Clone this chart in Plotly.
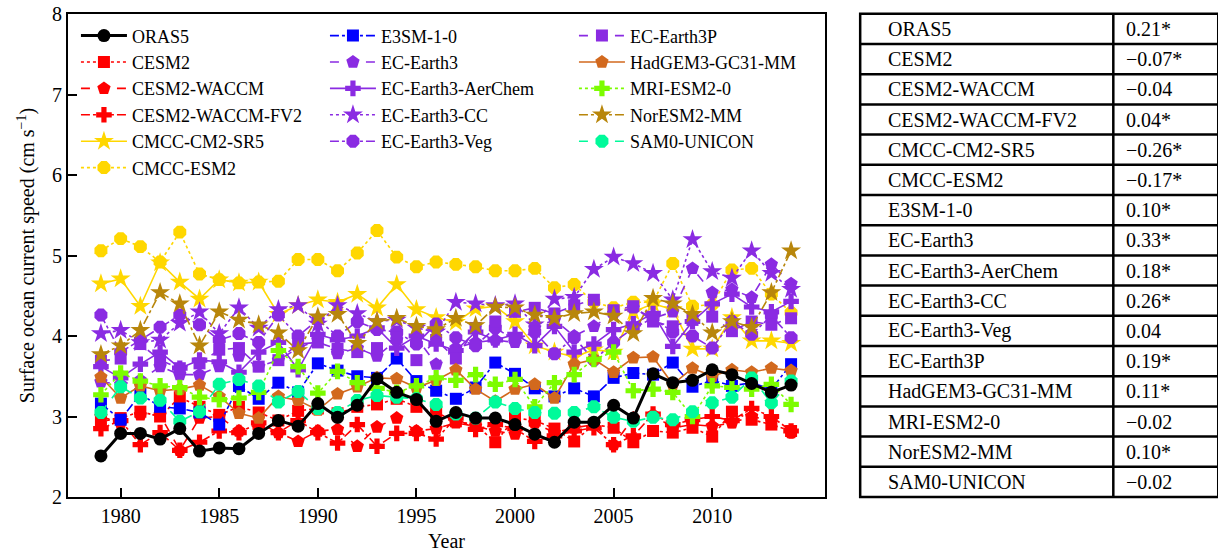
import plotly.graph_objects as go

# ---- data -------------------------------------------------------------
years = list(range(1979, 2015))

model_names = [
    "ORAS5", "CESM2", "CESM2-WACCM", "CESM2-WACCM-FV2", "CMCC-CM2-SR5",
    "CMCC-ESM2", "E3SM-1-0", "EC-Earth3", "EC-Earth3-AerChem", "EC-Earth3-CC",
    "EC-Earth3-Veg", "EC-Earth3P", "HadGEM3-GC31-MM", "MRI-ESM2-0",
    "NorESM2-MM", "SAM0-UNICON",
]

# linear trends (cm s-1 per decade), * = significant
trend_labels = [
    "0.21*", "\u22120.07*", "\u22120.04", "0.04*", "\u22120.26*", "\u22120.17*",
    "0.10*", "0.33*", "0.18*", "0.26*", "0.04", "0.19*", "0.11*", "\u22120.02",
    "0.10*", "\u22120.02",
]

oras5 = [2.51, 2.79, 2.79, 2.72, 2.85, 2.57, 2.61, 2.60, 2.79, 2.95, 2.88, 3.16,
         2.99, 3.14, 3.47, 3.30, 3.21, 2.94, 3.05, 2.98, 2.98, 2.90, 2.78, 2.68,
         2.93, 2.93, 3.14, 2.98, 3.53, 3.42, 3.45, 3.58, 3.52, 3.41, 3.30, 3.39]
cesm2 = [2.94, 2.98, 3.06, 3.00, 3.24, 3.12, 3.02, 3.12, 3.05, 2.95, 3.07, 3.10,
         3.04, 3.12, 3.15, 3.22, 3.12, 3.05, 2.94, 2.90, 2.68, 2.98, 2.95, 2.85,
         2.69, 2.90, 2.86, 2.68, 2.82, 2.80, 2.86, 2.75, 3.06, 2.96, 2.90, 2.82]
cesm2_waccm = [3.00, 2.92, 3.02, 3.02, 2.58, 2.98, 3.00, 2.82, 2.85, 2.80, 2.69, 2.82,
               2.84, 2.63, 2.87, 2.98, 2.82, 2.85, 2.92, 2.88, 2.82, 2.78, 2.92, 2.80,
               2.86, 2.90, 2.65, 2.98, 3.02, 2.86, 2.90, 2.88, 2.92, 3.00, 2.95, 2.80]
cesm2_waccm_fv2 = [2.85, 2.95, 2.65, 2.80, 2.58, 2.68, 2.82, 2.80, 2.92, 2.80, 2.95, 2.80,
                   2.67, 2.90, 2.63, 2.79, 2.79, 2.72, 2.98, 2.84, 2.90, 2.85, 2.69, 2.76,
                   2.82, 2.86, 2.65, 2.76, 3.03, 2.90, 2.96, 3.00, 2.95, 3.10, 3.00, 2.82]
cmcc_cm2_sr5 = [4.65, 4.71, 4.37, 4.91, 4.67, 4.46, 4.70, 4.66, 4.67, 4.27, 4.38, 4.45,
                4.42, 4.52, 4.35, 4.64, 4.33, 4.23, 4.17, 4.34, 4.37, 4.18, 3.88, 3.80,
                3.74, 3.83, 3.80, 4.30, 4.40, 4.33, 3.84, 3.84, 4.23, 3.94, 3.94, 3.91]
cmcc_esm2 = [5.06, 5.21, 5.11, 4.92, 5.29, 4.77, 4.70, 4.66, 4.67, 4.68, 4.95, 4.95,
             4.81, 5.03, 5.31, 4.98, 4.86, 4.92, 4.89, 4.86, 4.81, 4.81, 4.84, 4.60,
             4.64, 4.42, 4.35, 4.42, 4.42, 4.90, 4.37, 4.39, 4.82, 4.84, 4.52, 4.29]
e3sm_1_0 = [3.16, 2.96, 3.28, 3.12, 3.10, 3.05, 2.90, 3.38, 3.22, 3.42, 3.30, 3.66,
            3.57, 3.50, 3.48, 3.72, 3.44, 3.32, 3.22, 3.36, 3.67, 3.53, 3.35, 3.25,
            3.35, 3.25, 3.48, 3.54, 3.52, 3.67, 3.37, 3.45, 3.38, 3.42, 3.34, 3.65]
ec_earth3 = [3.43, 3.40, 3.45, 3.62, 3.52, 3.52, 3.62, 3.75, 3.62, 3.70, 3.85, 3.95,
             3.78, 3.85, 3.75, 3.95, 3.98, 3.65, 3.85, 3.92, 3.95, 3.92, 4.10, 4.20,
             4.00, 4.12, 4.28, 4.35, 4.22, 4.30, 4.84, 4.54, 4.58, 4.48, 4.89, 4.65]
ec_earth3_aerchem = [3.62, 3.48, 3.65, 3.80, 3.60, 3.70, 3.68, 3.55, 3.80, 3.92, 3.58, 4.02,
                     3.95, 4.00, 4.10, 3.85, 4.00, 3.90, 3.82, 4.05, 3.95, 4.02, 3.88, 4.12,
                     3.80, 3.90, 4.08, 4.15, 4.28, 3.87, 4.18, 4.40, 4.52, 4.36, 4.30, 4.43]
ec_earth3_cc = [4.03, 4.07, 3.92, 3.95, 4.16, 4.30, 4.03, 4.35, 4.10, 4.33, 4.38, 4.15,
                4.38, 4.28, 4.18, 4.20, 4.10, 4.05, 4.42, 4.40, 4.38, 4.40, 4.14, 4.46,
                4.48, 4.83, 4.98, 4.90, 4.78, 4.45, 5.20, 4.80, 4.72, 5.06, 4.78, 4.58]
ec_earth3_veg = [4.26, 3.80, 3.95, 4.11, 4.26, 4.14, 3.95, 4.03, 3.92, 4.26, 4.00, 4.20,
                 4.00, 4.18, 4.08, 4.05, 3.90, 4.15, 3.98, 3.88, 4.10, 3.95, 4.05, 3.78,
                 3.98, 3.70, 3.92, 4.10, 4.22, 4.05, 4.00, 3.85, 4.18, 4.02, 4.25, 3.98]
ec_earth3p = [3.69, 3.72, 3.90, 3.70, 3.60, 3.66, 3.83, 3.85, 3.62, 3.70, 3.90, 3.92,
              3.84, 3.80, 3.85, 3.98, 3.70, 3.95, 3.72, 4.10, 4.18, 4.30, 4.35, 4.28,
              4.38, 4.45, 4.32, 4.37, 4.18, 4.12, 4.20, 4.24, 4.06, 4.18, 4.14, 4.22]
hadgem3_gc31_mm = [3.49, 3.23, 3.38, 3.32, 3.34, 3.39, 3.25, 3.04, 2.98, 3.25, 3.20, 3.08,
                   3.28, 3.37, 3.48, 3.47, 3.36, 3.45, 3.58, 3.34, 3.19, 3.34, 3.40, 3.23,
                   3.65, 3.71, 3.55, 3.73, 3.74, 3.40, 3.60, 3.50, 3.58, 3.55, 3.60, 3.57]
mri_esm2_0 = [3.27, 3.54, 3.44, 3.38, 3.36, 3.24, 3.21, 3.23, 3.30, 3.82, 3.62, 3.29,
              3.56, 3.42, 3.35, 3.30, 3.38, 3.48, 3.45, 3.52, 3.40, 3.46, 3.12, 3.42,
              3.52, 3.71, 3.80, 3.32, 3.34, 3.30, 3.00, 3.38, 3.36, 3.34, 3.40, 3.15]
noresm2_mm = [3.77, 3.88, 4.07, 4.54, 4.40, 3.88, 4.30, 4.20, 4.14, 4.04, 3.82, 4.24,
              4.27, 3.91, 4.18, 4.22, 4.12, 4.08, 4.22, 4.13, 4.36, 4.35, 4.26, 4.22,
              4.28, 4.30, 4.25, 4.03, 4.47, 4.40, 4.27, 4.04, 4.18, 4.11, 4.54, 5.06]
sam0_unicon = [3.05, 3.37, 3.23, 3.20, 2.94, 3.06, 3.40, 3.46, 3.38, 3.18, 3.31, 3.10,
               3.05, 3.20, 3.26, 3.24, 3.22, 3.15, 3.03, 2.98, 3.18, 3.10, 3.05, 3.04,
               3.05, 3.12, 2.99, 2.94, 2.99, 2.96, 3.06, 3.17, 3.24, 3.48, 3.17, 3.44]

series_values = [
    oras5, cesm2, cesm2_waccm, cesm2_waccm_fv2, cmcc_cm2_sr5, cmcc_esm2, e3sm_1_0,
    ec_earth3, ec_earth3_aerchem, ec_earth3_cc, ec_earth3_veg, ec_earth3p,
    hadgem3_gc31_mm, mri_esm2_0, noresm2_mm, sam0_unicon,
]

# ---- styles -----------------------------------------------------------
RED, GOLD, BLUE, VIOLET = "#FF0000", "#FFD700", "#0000FF", "#8A2BE2"
styles = {
    "ORAS5":             (  "black",  "solid",   "circle",   13),
    "CESM2":             (   RED,     "dot",     "square",   12),
    "CESM2-WACCM":       (   RED,     "dash",    "pentagon", 14),
    "CESM2-WACCM-FV2":   (   RED,     "dashdot", "cross",    13),
    "CMCC-CM2-SR5":      (   GOLD,    "solid",   "star",     15),
    "CMCC-ESM2":         (   GOLD,    "dot",     "octagon",  14),
    "E3SM-1-0":          (   BLUE,    "dashdot", "square",   12),
    "EC-Earth3":         (   VIOLET,  "dash",    "pentagon", 14),
    "EC-Earth3-AerChem": (   VIOLET,  "solid",   "cross",    13),
    "EC-Earth3-CC":      (   VIOLET,  "dot",     "star",     15),
    "EC-Earth3-Veg":     (   VIOLET,  "dashdot", "octagon",  14),
    "EC-Earth3P":        (   VIOLET,  "dash",    "square",   12),
    "HadGEM3-GC31-MM":   ("#D2691E",  "solid",   "pentagon", 14),
    "MRI-ESM2-0":        ("#7CFC00",  "dot",     "cross",    13),
    "NorESM2-MM":        ("#B8860B",  "dashdot", "star",     15),
    "SAM0-UNICON":       ("#00FA9A",  "dash",    "octagon",  14),
}

FONT = "Liberation Serif, Times New Roman, serif"
W, H = 1218, 555
L, R, T, B = 68, 825.5, 13.5, 497.3          # plot box in pixels

fig = go.Figure()

# legend: three columns (6, 5, 5 entries) read top-to-bottom
legend_columns = [model_names[0:6], model_names[6:11], model_names[11:16]]
rank = {}
for col, names in enumerate(legend_columns):
    for row, nm in enumerate(names):
        rank[nm] = row * 3 + col + 1

draw_order = list(range(1, len(model_names))) + [0]   # reanalysis on top
for i in draw_order:
    name = model_names[i]
    color, dash, symbol, size = styles[name]
    fig.add_trace(go.Scatter(
        x=years, y=series_values[i], name=name, mode="lines+markers",
        line=dict(color=color, dash=dash, width=3 if name == "ORAS5" else 1.6),
        marker=dict(symbol=symbol, size=size, color=color, line=dict(width=0)),
        legendrank=rank[name],
    ))

# ---- trend table beside the plot --------------------------------------
def px_x(p):
    return (p - L) / (R - L)

def px_y(p):
    return (B - p) / (B - T)

tab_left, tab_mid, tab_right = 860.7, 1114.0, 1219.0
tab_top, tab_bottom = 13.3, 497.3
row_h = (tab_bottom - tab_top) / len(model_names)
shapes = []
line_style = dict(color="black", width=2.5)
shapes.append(dict(type="rect", xref="paper", yref="paper",
                   x0=px_x(tab_left), x1=px_x(tab_right),
                   y0=px_y(tab_bottom), y1=px_y(tab_top), line=line_style))
shapes.append(dict(type="line", xref="paper", yref="paper",
                   x0=px_x(tab_mid), x1=px_x(tab_mid),
                   y0=px_y(tab_bottom), y1=px_y(tab_top), line=line_style))
annotations = []
for k, (name, val) in enumerate(zip(model_names, trend_labels)):
    if k > 0:
        yy = tab_top + k * row_h
        shapes.append(dict(type="line", xref="paper", yref="paper",
                           x0=px_x(tab_left), x1=px_x(tab_right),
                           y0=px_y(yy), y1=px_y(yy), line=line_style))
    yc = tab_top + (k + 0.5) * row_h
    annotations.append(dict(xref="paper", yref="paper", x=px_x(tab_left + 26),
                            y=px_y(yc), text=name, showarrow=False,
                            xanchor="left", yanchor="middle",
                            font=dict(family=FONT, size=20, color="black")))
    annotations.append(dict(xref="paper", yref="paper", x=px_x(tab_mid + 11),
                            y=px_y(yc), text=val, showarrow=False,
                            xanchor="left", yanchor="middle",
                            font=dict(family=FONT, size=20, color="black")))

axis_common = dict(
    showline=True, linecolor="black", linewidth=2, mirror=True,
    ticks="inside", ticklen=9, tickwidth=2, tickcolor="black",
    showgrid=False, zeroline=False,
    tickfont=dict(family=FONT, size=20, color="black"),
)

fig.update_layout(
    width=W, height=H,
    margin=dict(l=L, r=W - R, t=T, b=H - B, autoexpand=False),
    paper_bgcolor="white", plot_bgcolor="white",
    font=dict(family=FONT, size=18, color="black"),
    xaxis=dict(range=[1977.33, 2015.72], tickvals=[1980, 1985, 1990, 1995, 2000, 2005, 2010],
               title=dict(text="Year", font=dict(family=FONT, size=20), standoff=8),
               **axis_common),
    yaxis=dict(range=[2, 8], tickvals=[2, 3, 4, 5, 6, 7, 8],
               title=dict(text="Surface ocean current speed (cm s<sup>\u22121</sup>)",
                          font=dict(family=FONT, size=20), standoff=12),
               **axis_common),
    legend=dict(orientation="h", x=0.0105, y=0.993, xanchor="left", yanchor="top",
                entrywidth=188, entrywidthmode="pixels", itemwidth=46,
                bgcolor="rgba(0,0,0,0)", font=dict(family=FONT, size=18),
                traceorder="normal"),
    shapes=shapes,
    annotations=annotations,
)

fig.write_html("out.html")
